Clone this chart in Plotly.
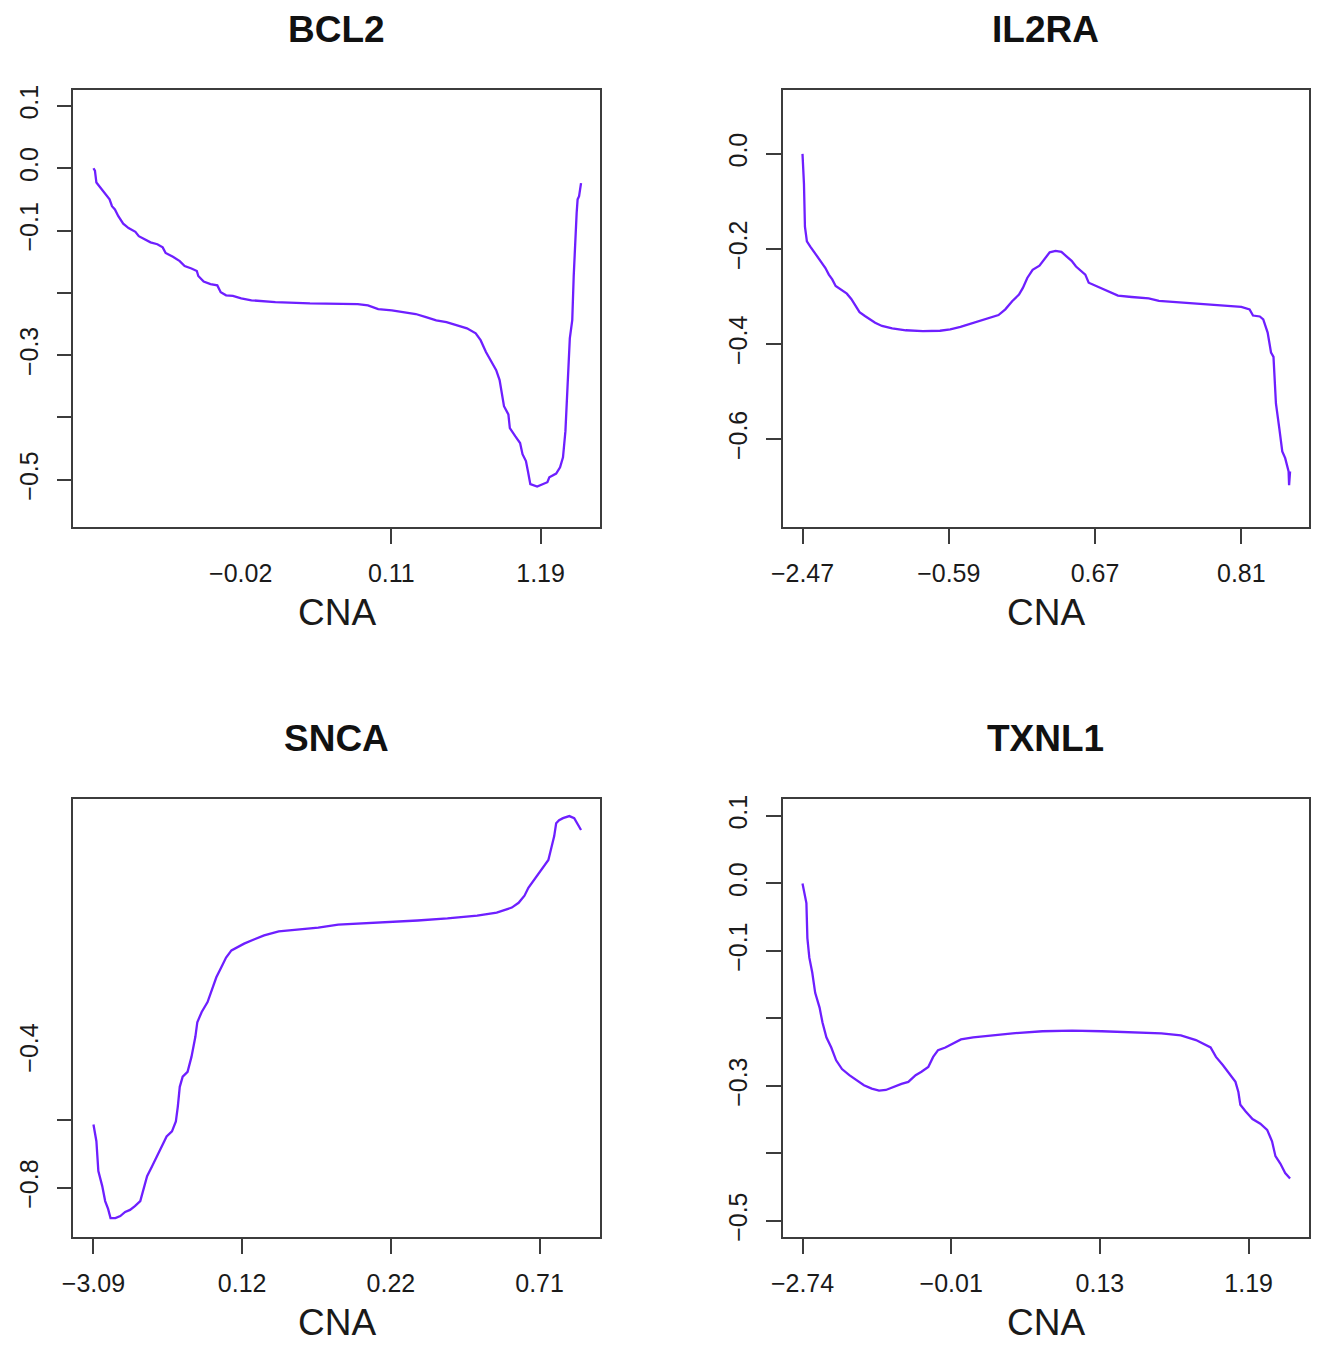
import plotly.graph_objects as go

FONT = "Liberation Sans"
LINE_COLOR = "#6E1FFF"
AXIS_COLOR = "#3c3c3c"
TEXT_COLOR = "#1a1a1a"

# ---------------- data (x = relative rank position, y = effect) ----------------
bcl2_x = [0.000, 0.003, 0.006, 0.016, 0.026, 0.033, 0.038, 0.044, 0.051, 0.061,
          0.072, 0.086, 0.093, 0.107, 0.117, 0.131, 0.142, 0.148, 0.163, 0.177,
          0.187, 0.201, 0.212, 0.215, 0.226, 0.240, 0.254, 0.261, 0.272, 0.286,
          0.303, 0.324, 0.373, 0.444, 0.514, 0.542, 0.563, 0.584, 0.612, 0.633,
          0.661, 0.682, 0.703, 0.724, 0.745, 0.766, 0.784, 0.794, 0.805, 0.816,
          0.826, 0.833, 0.838, 0.842, 0.851, 0.854, 0.865, 0.875, 0.880, 0.887,
          0.891, 0.896, 0.910, 0.924, 0.931, 0.935, 0.949, 0.957, 0.963, 0.968,
          0.973, 0.977, 0.982, 0.985, 0.991, 0.993, 0.996, 1.000]
bcl2_y = [0.000, -0.004, -0.023, -0.033, -0.042, -0.050, -0.061, -0.066, -0.077, -0.089,
          -0.096, -0.102, -0.109, -0.115, -0.119, -0.122, -0.127, -0.136, -0.142, -0.149,
          -0.157, -0.161, -0.165, -0.173, -0.182, -0.186, -0.188, -0.199, -0.204, -0.205,
          -0.209, -0.212, -0.215, -0.217, -0.218, -0.218, -0.220, -0.226, -0.228, -0.231,
          -0.234, -0.239, -0.244, -0.247, -0.252, -0.257, -0.265, -0.276, -0.295, -0.311,
          -0.324, -0.340, -0.364, -0.382, -0.395, -0.417, -0.430, -0.441, -0.459, -0.470,
          -0.486, -0.507, -0.511, -0.507, -0.504, -0.496, -0.490, -0.480, -0.464, -0.422,
          -0.342, -0.273, -0.244, -0.173, -0.072, -0.050, -0.045, -0.024]

il2ra_x = [0.000, 0.003, 0.005, 0.009, 0.016, 0.023, 0.031, 0.040, 0.047, 0.054,
           0.061, 0.068, 0.079, 0.091, 0.100, 0.108, 0.117, 0.128, 0.138, 0.149,
           0.163, 0.184, 0.212, 0.247, 0.282, 0.303, 0.324, 0.345, 0.366, 0.380,
           0.402, 0.416, 0.430, 0.444, 0.452, 0.461, 0.472, 0.486, 0.496, 0.507,
           0.519, 0.531, 0.542, 0.552, 0.561, 0.573, 0.580, 0.587, 0.602, 0.619,
           0.647, 0.675, 0.710, 0.731, 0.759, 0.794, 0.830, 0.865, 0.900, 0.917,
           0.924, 0.938, 0.945, 0.954, 0.961, 0.966, 0.968, 0.971, 0.978, 0.984,
           0.990, 0.997, 0.998, 1.000]
il2ra_y = [0.000, -0.063, -0.153, -0.184, -0.195, -0.205, -0.216, -0.230, -0.240, -0.254,
           -0.264, -0.278, -0.285, -0.294, -0.305, -0.319, -0.333, -0.341, -0.348, -0.355,
           -0.362, -0.367, -0.371, -0.373, -0.372, -0.369, -0.364, -0.357, -0.350, -0.346,
           -0.339, -0.327, -0.310, -0.296, -0.282, -0.261, -0.244, -0.235, -0.221, -0.207,
           -0.204, -0.206, -0.216, -0.225, -0.237, -0.249, -0.254, -0.271, -0.278, -0.285,
           -0.298, -0.301, -0.304, -0.309, -0.311, -0.314, -0.316, -0.319, -0.322, -0.327,
           -0.340, -0.342, -0.348, -0.376, -0.418, -0.427, -0.480, -0.525, -0.578, -0.626,
           -0.640, -0.668, -0.697, -0.668]

snca_x = [0.000, 0.006, 0.010, 0.018, 0.024, 0.030, 0.035, 0.045, 0.055, 0.065,
          0.075, 0.085, 0.096, 0.102, 0.110, 0.120, 0.130, 0.140, 0.150, 0.161,
          0.169, 0.173, 0.177, 0.183, 0.193, 0.201, 0.209, 0.213, 0.222, 0.234,
          0.244, 0.252, 0.262, 0.272, 0.283, 0.295, 0.309, 0.329, 0.350, 0.380,
          0.421, 0.461, 0.502, 0.543, 0.604, 0.665, 0.726, 0.787, 0.827, 0.848,
          0.858, 0.872, 0.884, 0.892, 0.904, 0.919, 0.933, 0.939, 0.945, 0.949,
          0.955, 0.963, 0.976, 0.986, 0.994, 1.000]
snca_y = [-0.614, -0.663, -0.751, -0.795, -0.839, -0.862, -0.889, -0.889, -0.883, -0.871,
          -0.865, -0.854, -0.839, -0.810, -0.766, -0.737, -0.707, -0.678, -0.649, -0.634,
          -0.605, -0.561, -0.503, -0.473, -0.459, -0.415, -0.356, -0.313, -0.283, -0.254,
          -0.210, -0.181, -0.152, -0.123, -0.102, -0.093, -0.082, -0.070, -0.058, -0.046,
          -0.041, -0.035, -0.026, -0.023, -0.020, -0.014, -0.008, 0.000, 0.009, 0.018,
          0.024, 0.038, 0.059, 0.082, 0.106, 0.135, 0.164, 0.199, 0.234, 0.272,
          0.281, 0.287, 0.293, 0.287, 0.269, 0.252]

txnl1_x = [0.000, 0.004, 0.008, 0.010, 0.014, 0.020, 0.026, 0.035, 0.041, 0.049,
           0.059, 0.069, 0.081, 0.096, 0.110, 0.126, 0.142, 0.157, 0.171, 0.187,
           0.203, 0.217, 0.232, 0.244, 0.258, 0.268, 0.278, 0.293, 0.309, 0.325,
           0.350, 0.390, 0.431, 0.492, 0.553, 0.614, 0.675, 0.736, 0.776, 0.807,
           0.837, 0.848, 0.862, 0.878, 0.888, 0.894, 0.898, 0.909, 0.923, 0.939,
           0.953, 0.963, 0.970, 0.980, 0.990, 1.000]
txnl1_y = [0.000, -0.015, -0.029, -0.081, -0.110, -0.132, -0.162, -0.184, -0.206, -0.228,
           -0.243, -0.262, -0.275, -0.284, -0.291, -0.299, -0.304, -0.307, -0.306, -0.301,
           -0.297, -0.294, -0.284, -0.279, -0.272, -0.257, -0.247, -0.243, -0.237, -0.231,
           -0.228, -0.225, -0.222, -0.219, -0.218, -0.219, -0.221, -0.222, -0.225, -0.232,
           -0.243, -0.257, -0.269, -0.284, -0.294, -0.309, -0.328, -0.338, -0.349, -0.356,
           -0.365, -0.382, -0.404, -0.415, -0.429, -0.437]

# ---------------- tick definitions ----------------
bcl2_xmarks = [0.611, 0.917]
bcl2_xlabpos = [0.302, 0.611, 0.917]
bcl2_xlabels = ["\u22120.02", "0.11", "1.19"]
bcl2_ymarks = [0.1, 0.0, -0.1, -0.2, -0.3, -0.4, -0.5]
bcl2_ylabpos = [0.1, 0.0, -0.1, -0.3, -0.5]
bcl2_ylabels = ["0.1", "0.0", "\u22120.1", "\u22120.3", "\u22120.5"]

il2ra_xmarks = [0.0, 0.3, 0.6, 0.9]
il2ra_xlabpos = [0.0, 0.3, 0.6, 0.9]
il2ra_xlabels = ["\u22122.47", "\u22120.59", "0.67", "0.81"]
il2ra_ymarks = [0.0, -0.2, -0.4, -0.6]
il2ra_ylabpos = [0.0, -0.2, -0.4, -0.6]
il2ra_ylabels = ["0.0", "\u22120.2", "\u22120.4", "\u22120.6"]

snca_xmarks = [0.0, 0.305, 0.61, 0.915]
snca_xlabpos = [0.0, 0.305, 0.61, 0.915]
snca_xlabels = ["\u22123.09", "0.12", "0.22", "0.71"]
snca_ymarks = [-0.6, -0.8]
snca_ylabpos = [-0.4, -0.8]
snca_ylabels = ["\u22120.4", "\u22120.8"]

txnl1_xmarks = [0.0, 0.305, 0.61, 0.915]
txnl1_xlabpos = [0.0, 0.305, 0.61, 0.915]
txnl1_xlabels = ["\u22122.74", "\u22120.01", "0.13", "1.19"]
txnl1_ymarks = [0.1, 0.0, -0.1, -0.2, -0.3, -0.4, -0.5]
txnl1_ylabpos = [0.1, 0.0, -0.1, -0.3, -0.5]
txnl1_ylabels = ["0.1", "0.0", "\u22120.1", "\u22120.3", "\u22120.5"]

x_axis_title = "CNA"

# ---------------- layout geometry ----------------
W, H = 1319, 1349
col_dom = [(63 / W, 594 / W), (778 / W, 1309 / W)]
row_dom = [(1 - 526 / H, 1 - 86 / H), (1 - 1241 / H, 1 - 800 / H)]
XR = [-0.041, 1.039]

panels = [
    dict(title="BCL2", x=bcl2_x, y=bcl2_y, yr=[-0.576, 0.125],
         xm=bcl2_xmarks, xp=bcl2_xlabpos, xt=bcl2_xlabels,
         ym=bcl2_ymarks, yp=bcl2_ylabpos, yt=bcl2_ylabels, col=0, row=0),
    dict(title="IL2RA", x=il2ra_x, y=il2ra_y, yr=[-0.785, 0.1336],
         xm=il2ra_xmarks, xp=il2ra_xlabpos, xt=il2ra_xlabels,
         ym=il2ra_ymarks, yp=il2ra_ylabpos, yt=il2ra_ylabels, col=1, row=0),
    dict(title="SNCA", x=snca_x, y=snca_y, yr=[-0.944, 0.343],
         xm=snca_xmarks, xp=snca_xlabpos, xt=snca_xlabels,
         ym=snca_ymarks, yp=snca_ylabpos, yt=snca_ylabels, col=0, row=1),
    dict(title="TXNL1", x=txnl1_x, y=txnl1_y, yr=[-0.5235, 0.125],
         xm=txnl1_xmarks, xp=txnl1_xlabpos, xt=txnl1_xlabels,
         ym=txnl1_ymarks, yp=txnl1_ylabpos, yt=txnl1_ylabels, col=1, row=1),
]

fig = go.Figure()
layout = dict(width=W, height=H, margin=dict(l=0, r=0, t=0, b=0),
              paper_bgcolor="white", plot_bgcolor="white", showlegend=False,
              font=dict(family=FONT, color=TEXT_COLOR))
annotations = []

tickfont = dict(family=FONT, size=25, color=TEXT_COLOR)

for i, p in enumerate(panels):
    n = i + 1
    xs, ys = ("x" if n == 1 else f"x{n}"), ("y" if n == 1 else f"y{n}")
    xk, yk = ("xaxis" if n == 1 else f"xaxis{n}"), ("yaxis" if n == 1 else f"yaxis{n}")
    fig.add_trace(go.Scatter(x=p["x"], y=p["y"], mode="lines",
                             line=dict(color=LINE_COLOR, width=2.3),
                             xaxis=xs, yaxis=ys, hoverinfo="skip"))
    xd = col_dom[p["col"]]
    yd = row_dom[p["row"]]
    # major ticks: labels only (invisible inside marks); minor ticks: the visible marks
    layout[xk] = dict(domain=list(xd), range=XR, anchor=ys,
                      tickmode="array", tickvals=p["xp"], ticktext=p["xt"],
                      ticks="inside", ticklen=1, tickwidth=1,
                      tickcolor="rgba(0,0,0,0)", ticklabelstandoff=23,
                      minor=dict(tickmode="array", tickvals=p["xm"], ticks="outside",
                                 ticklen=15, tickwidth=1.5, tickcolor=AXIS_COLOR,
                                 showgrid=False),
                      showline=True, mirror=True, linecolor=AXIS_COLOR, linewidth=1.5,
                      showgrid=False, zeroline=False, tickfont=tickfont)
    layout[yk] = dict(domain=list(yd), range=p["yr"], anchor=xs,
                      tickmode="array", tickvals=p["yp"], ticktext=p["yt"],
                      ticks="inside", ticklen=1, tickwidth=1, tickangle=-90,
                      tickcolor="rgba(0,0,0,0)", ticklabelstandoff=24,
                      minor=dict(tickmode="array", tickvals=p["ym"], ticks="outside",
                                 ticklen=15, tickwidth=1.5, tickcolor=AXIS_COLOR,
                                 showgrid=False),
                      showline=True, mirror=True, linecolor=AXIS_COLOR, linewidth=1.5,
                      showgrid=False, zeroline=False, tickfont=tickfont)
    cx = (xd[0] + xd[1]) / 2
    top_px = 86 if p["row"] == 0 else 800
    bot_px = 526 if p["row"] == 0 else 1241
    annotations.append(dict(text=f"<b>{p['title']}</b>", x=cx, y=1 - (top_px - 61) / H,
                            xref="paper", yref="paper", xanchor="center", yanchor="middle",
                            showarrow=False, font=dict(family=FONT, size=37, color="#111111")))
    annotations.append(dict(text=x_axis_title, x=cx, y=1 - (bot_px + 86) / H,
                            xref="paper", yref="paper", xanchor="center", yanchor="middle",
                            showarrow=False, font=dict(family=FONT, size=37, color=TEXT_COLOR)))

layout["annotations"] = annotations
fig.update_layout(**layout)
fig.write_html("out.html", config={"displayModeBar": False},
               post_script="document.body.style.margin='0px';document.body.style.overflow='hidden';")
